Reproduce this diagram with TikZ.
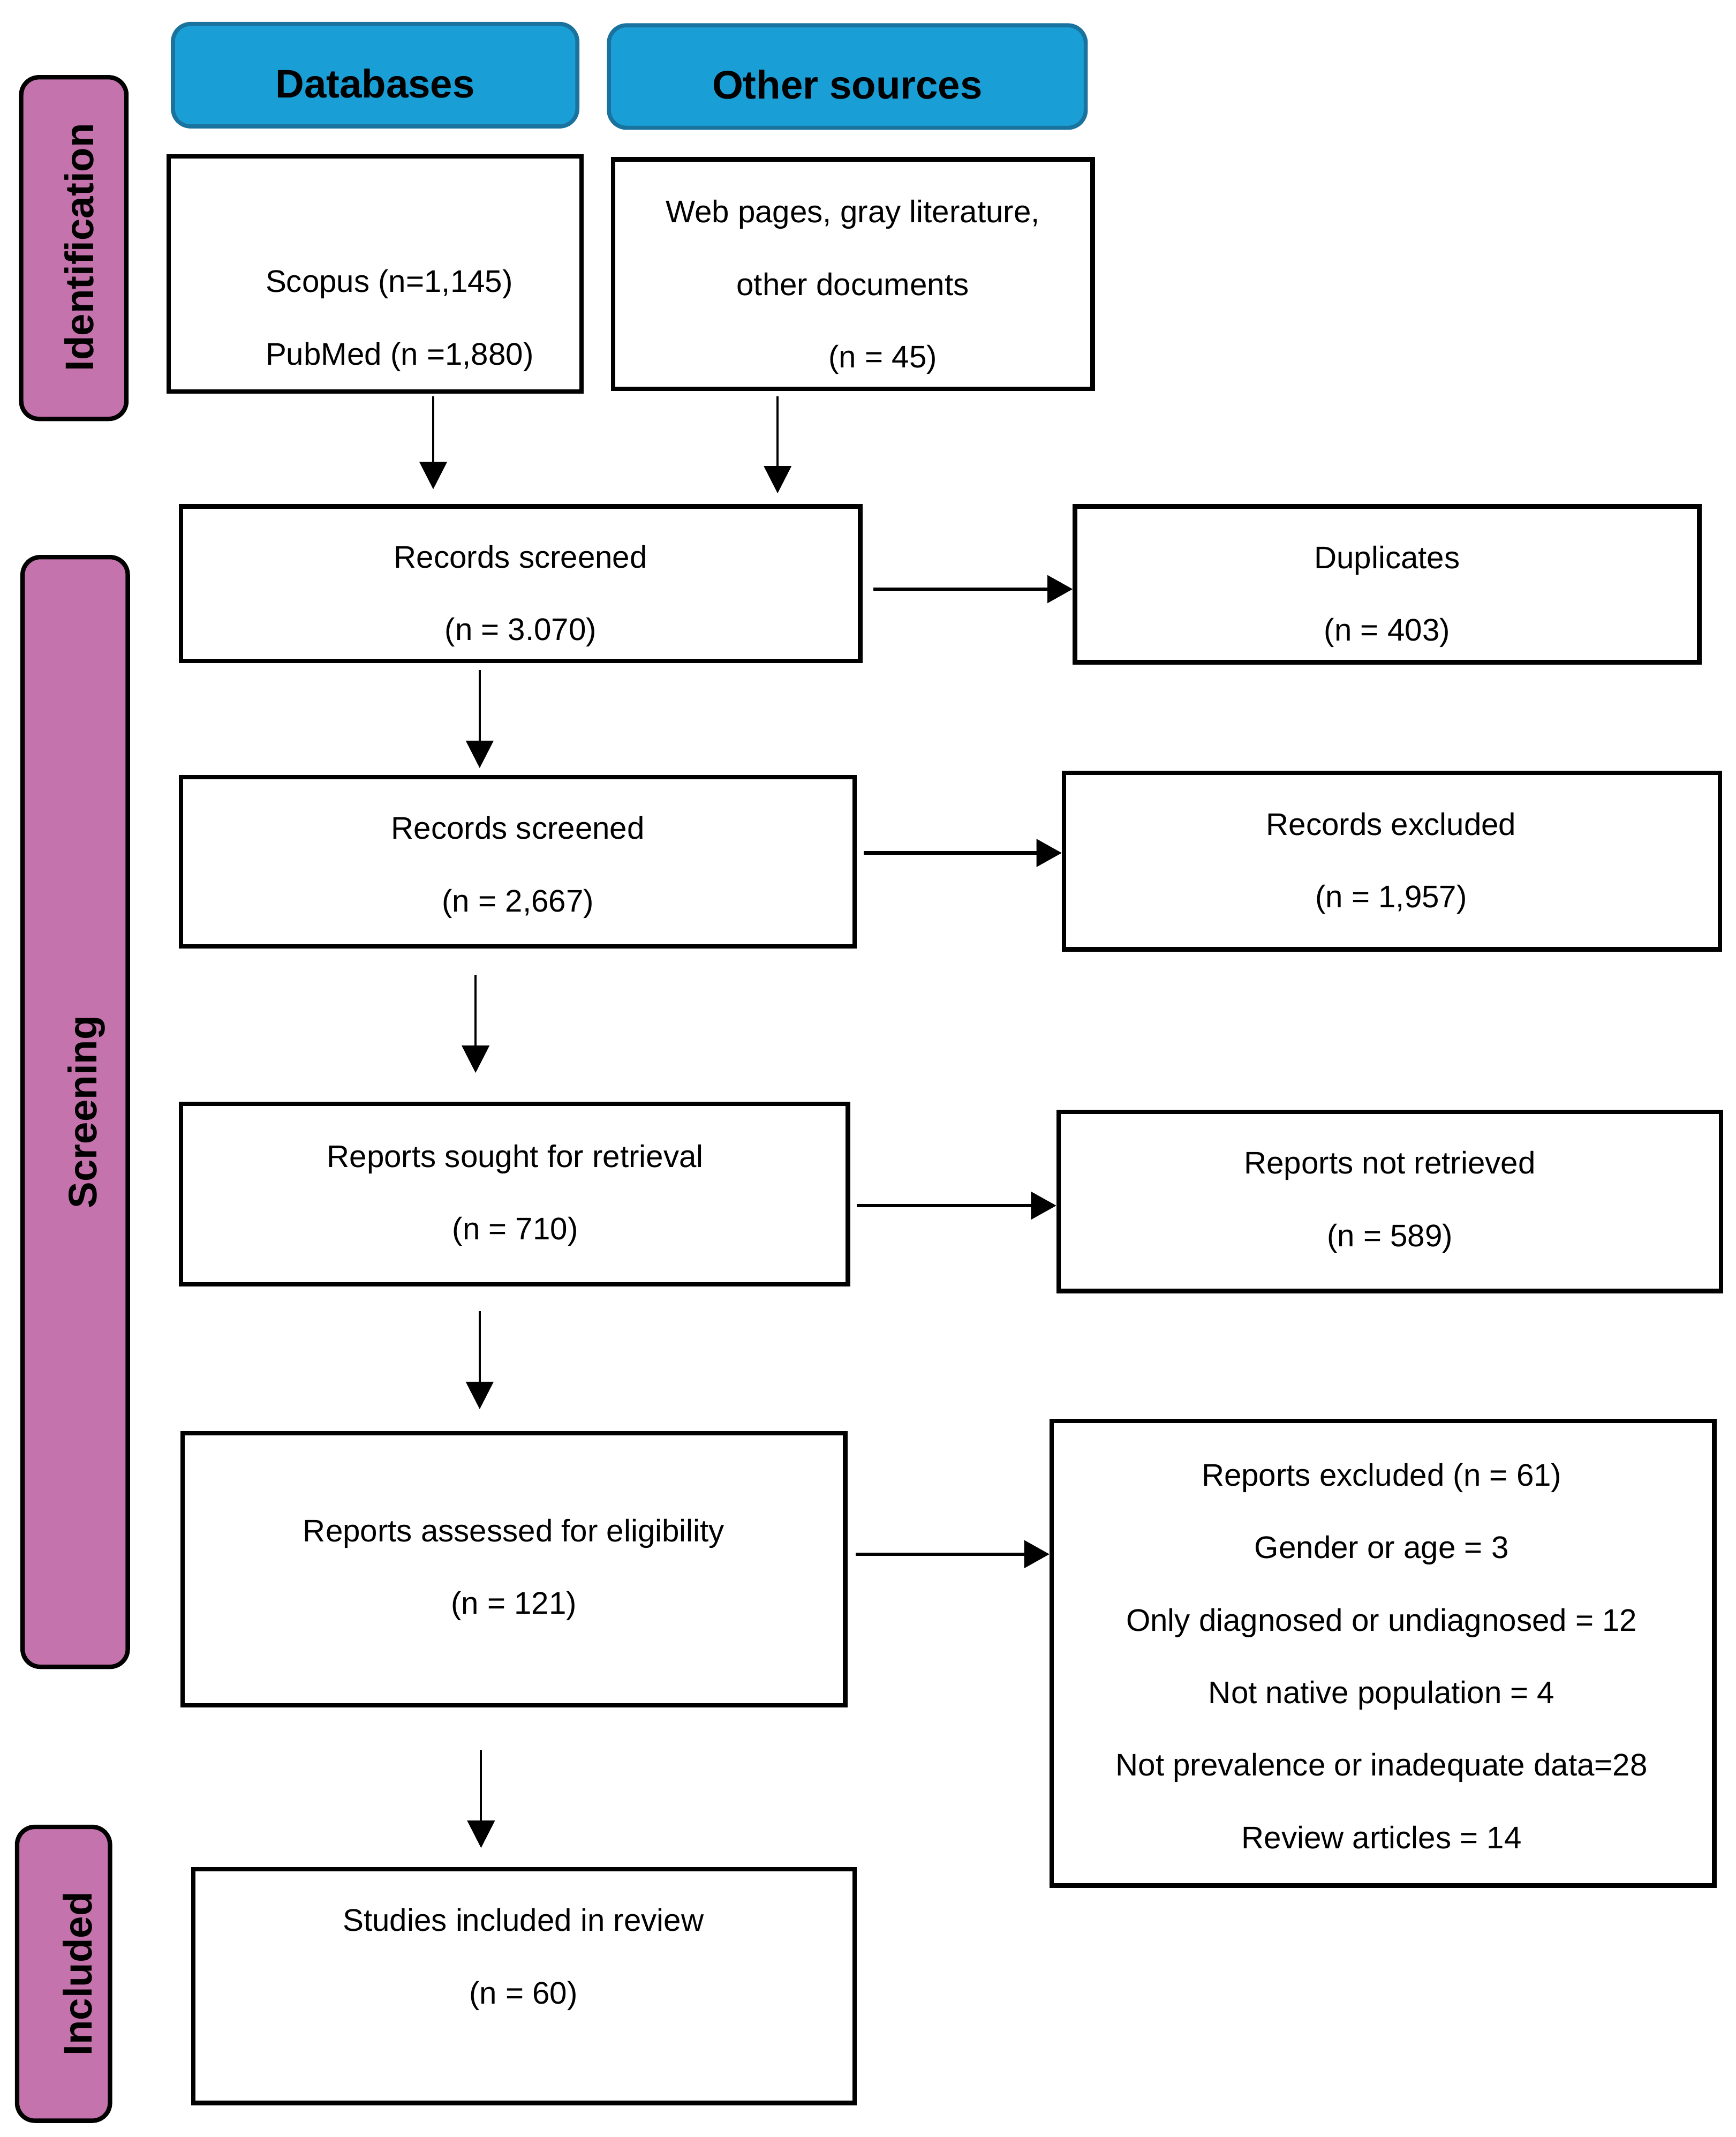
\documentclass[tikz,border=0pt]{standalone}
\usepackage{fontspec}
\setmainfont{Liberation Sans}
\usetikzlibrary{arrows.meta}

\definecolor{sidepink}{RGB}{197,115,172}
\definecolor{headblue}{RGB}{25,159,213}
\definecolor{headedge}{RGB}{26,115,158}

\begin{document}
\begin{tikzpicture}[x=0.02cm,y=-0.02cm]
\tikzset{
  box/.style={draw=black,line width=0.065cm,fill=white,inner sep=0pt},
  sidebar/.style={draw=black,line width=0.065cm,fill=sidepink,rounded corners=0.26cm,inner sep=0pt},
  headbox/.style={draw=headedge,line width=0.06cm,fill=headblue,rounded corners=0.26cm,inner sep=0pt},
  txt/.style={align=center,inner sep=0pt,font=\fontsize{13}{30.2}\selectfont},
  sidetxt/.style={rotate=90,inner sep=0pt,text depth=0pt,font=\fontsize{16.6}{20}\selectfont\bfseries},
  headtxt/.style={inner sep=0pt,font=\fontsize{16.6}{20}\selectfont\bfseries},
  arrv/.style={line width=0.032cm,-{Triangle[length=0.4cm,width=0.4cm]}},
  arrh/.style={line width=0.048cm,-{Triangle[length=0.37cm,width=0.4cm]}}
}
\useasboundingbox (0,0) rectangle (1270,1563.4);

% phase bars
\node[sidebar,minimum width=1.54cm,minimum height=5.00cm] (ident) at (54,181.5) {};
\node[sidebar,minimum width=1.54cm,minimum height=16.24cm] (screen) at (55,813.5) {};
\node[sidebar,minimum width=1.36cm,minimum height=4.30cm] (incl) at (46.5,1444) {};
\node[sidetxt] (identtxt) at (58,181) {Identification};
\node[sidetxt] (screentxt) at (60,813.5) {Screening};
\node[sidetxt] (incltxt) at (56.5,1444) {Included};

% headers
\node[headbox,minimum width=5.92cm,minimum height=1.50cm] (db) at (274.5,55) {};
\node[headbox,minimum width=6.98cm,minimum height=1.50cm] (other) at (620,56) {};
\node[headtxt] (dbtxt) at (274.5,61) {Databases};
\node[headtxt] (othertxt) at (620,62) {Other sources};

% boxes
\node[box,minimum width=6.04cm,minimum height=3.44cm] (scopus) at (274.5,200.5) {};
\node[box,minimum width=7.02cm,minimum height=3.36cm] (web) at (624,200.5) {};
\node[box,minimum width=9.94cm,minimum height=2.26cm] (rec1) at (381,427) {};
\node[box,minimum width=9.14cm,minimum height=2.28cm] (dup) at (1015,427.5) {};
\node[box,minimum width=9.86cm,minimum height=2.48cm] (rec2) at (379,630.5) {};
\node[box,minimum width=9.60cm,minimum height=2.58cm] (recex) at (1018.5,630) {};
\node[box,minimum width=9.76cm,minimum height=2.64cm] (sought) at (376.5,873.5) {};
\node[box,minimum width=9.70cm,minimum height=2.62cm] (notret) at (1017,879) {};
\node[box,minimum width=9.70cm,minimum height=3.98cm] (assessed) at (376,1148) {};
\node[box,minimum width=9.70cm,minimum height=6.80cm] (repex) at (1012,1209.5) {};
\node[box,minimum width=9.68cm,minimum height=3.42cm] (studies) at (383.5,1453) {};

% box texts
\node[txt,align=left,anchor=west] (scopustxt) at (194,234.5) {Scopus (n=1,145)\\PubMed (n =1,880)};
\node[txt] (webtxt) at (624,210) {Web pages, gray literature,\\other documents\\\hspace*{0.88cm}(n = 45)};
\node[txt] (rec1txt) at (381,436) {Records screened\\(n = 3.070)};
\node[txt] (duptxt) at (1015,436.5) {Duplicates\\(n = 403)};
\node[txt] (rec2txt) at (379,634.5) {Records screened\\(n = 2,667)};
\node[txt] (recextxt) at (1018,631.5) {Records excluded\\(n = 1,957)};
\node[txt] (soughttxt) at (377,874.5) {Reports sought for retrieval\\(n = 710)};
\node[txt] (notrettxt) at (1017,879.5) {Reports not retrieved\\(n = 589)};
\node[txt] (assessedtxt) at (376,1148.5) {Reports assessed for eligibility\\(n = 121)};
\node[txt] (repextxt) at (1011,1211.5) {Reports excluded (n = 61)\\Gender or age = 3\\Only diagnosed or undiagnosed = 12\\Not native population = 4\\Not prevalence or inadequate data=28\\Review articles = 14};
\node[txt] (studiestxt) at (383,1433.5) {Studies included in review\\(n = 60)};

% arrow columns and rows
\coordinate (v1) at (317,0);
\coordinate (v2) at (569,0);
\coordinate (v3) at (351,0);
\coordinate (v4) at (348,0);
\coordinate (v5) at (351,0);
\coordinate (v6) at (352,0);
\coordinate (h1) at (0,431);
\coordinate (h2) at (0,624);
\coordinate (h3) at (0,882);
\coordinate (h4) at (0,1137);

\draw[arrv,shorten <=0.04cm,shorten >=0.22cm] (scopus.south -| v1) -- (rec1.north -| v1);
\draw[arrv,shorten <=0.08cm,shorten >=0.16cm] (web.south -| v2) -- (rec1.north -| v2);
\draw[arrv,shorten <=0.10cm,shorten >=0.10cm] (rec1.south -| v3) -- (rec2.north -| v3);
\draw[arrv,shorten <=0.38cm,shorten >=0.42cm] (rec2.south -| v4) -- (sought.north -| v4);
\draw[arrv,shorten <=0.36cm,shorten >=0.32cm] (sought.south -| v5) -- (assessed.north -| v5);
\draw[arrv,shorten <=0.62cm,shorten >=0.28cm] (assessed.south -| v6) -- (studies.north -| v6);

\draw[arrh,shorten <=0.16cm] (rec1.east |- h1) -- (dup.west |- h1);
\draw[arrh,shorten <=0.10cm] (rec2.east |- h2) -- (recex.west |- h2);
\draw[arrh,shorten <=0.10cm] (sought.east |- h3) -- (notret.west |- h3);
\draw[arrh,shorten <=0.12cm] (assessed.east |- h4) -- (repex.west |- h4);

\end{tikzpicture}
\end{document}
